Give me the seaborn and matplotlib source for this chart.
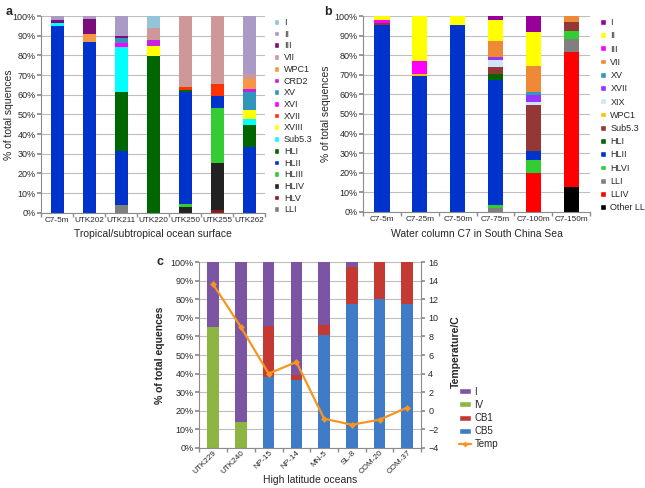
import numpy as np
import matplotlib
matplotlib.use('Agg')
import matplotlib.pyplot as plt
import seaborn as sns
from matplotlib.patches import Patch
from matplotlib.lines import Line2D

sns.set_theme(style='white')
plt.rcParams['font.family'] = ['Liberation Sans Narrow', 'Liberation Sans', 'DejaVu Sans']

# ---- panel a: tropical / subtropical surface ----
samples_a = ['C7-5m', 'UTK202', 'UTK211', 'UTK220', 'UTK250', 'UTK255', 'UTK262']
# clades from bottom of the stack to top
clades_a = ['LLI', 'HLV', 'HLIV', 'HLIII', 'HLII', 'HLI', 'Sub5.3', 'XVIII', 'XVII',
            'XVI', 'XV', 'CRD2', 'WPC1', 'VII', 'III', 'II', 'I']
LLI_a = [0, 0, 4, 0, 0, 0, 0]
HLV_a = [0, 0, 0, 0, 0, 1.5, 0]
HLIV_a = [0, 0, 0, 0, 3, 24, 0]
HLIII_a = [0, 0, 0, 0, 1.5, 28, 0]
HLII_a = [95, 86.7, 27.5, 0, 57, 6, 33.3]
HLI_a = [0, 0, 30, 79.6, 1, 0, 11.3]
Sub53_a = [1.5, 0, 23, 0, 0, 0, 3]
XVIII_a = [0, 0, 0, 5.4, 0, 0, 4.8]
XVII_a = [0, 0, 0, 0, 1.5, 6, 0]
XVI_a = [0, 0, 2, 0, 0, 0, 0]
XV_a = [0, 0, 2.2, 0, 0, 0, 8.8]
CRD2_a = [0, 0, 0, 3, 0, 0, 1.7]
WPC1_a = [0, 4.3, 0, 0, 0, 0, 5.1]
VII_a = [0, 0, 0, 6, 36, 34.5, 2.7]
III_a = [1.5, 7.6, 1.2, 0, 0, 0, 0]
II_a = [2, 1.4, 10.1, 0, 0, 0, 29.3]
I_a = [0, 0, 0, 6, 0, 0, 0]
values_a = [LLI_a, HLV_a, HLIV_a, HLIII_a, HLII_a, HLI_a, Sub53_a, XVIII_a, XVII_a,
            XVI_a, XV_a, CRD2_a, WPC1_a, VII_a, III_a, II_a, I_a]
colors_a = {'I': '#93C4D8', 'II': '#A99BC6', 'III': '#7A0D7A', 'VII': '#CE9898',
            'WPC1': '#F79646', 'CRD2': '#C620E0', 'XV': '#3196BB', 'XVI': '#FF00FF',
            'XVII': '#FF3300', 'XVIII': '#FFFF00', 'Sub5.3': '#00FFFF', 'HLI': '#006600',
            'HLII': '#0033CC', 'HLIII': '#33CC33', 'HLIV': '#222222', 'HLV': '#8B1A1A',
            'LLI': '#808080'}

# ---- panel b: water column C7 ----
samples_b = ['C7-5m', 'C7-25m', 'C7-50m', 'C7-75m', 'C7-100m', 'C7-150m']
clades_b = ['Other LL', 'LLIV', 'LLI', 'HLVI', 'HLII', 'HLI', 'Sub5.3', 'WPC1', 'XIX',
            'XVII', 'XV', 'VII', 'III', 'II', 'I']
OtherLL_b = [0, 0, 0, 0, 0, 12.7]
LLIV_b = [0, 0, 0, 0, 20, 69.2]
LLI_b = [0, 0, 0, 1.7, 0, 6.4]
HLVI_b = [0, 0, 0, 1.7, 6.4, 3.9]
HLII_b = [95.2, 69.2, 95.4, 63.7, 4.6, 0]
HLI_b = [0, 0, 0, 3.4, 0, 0]
Sub53_b = [1.2, 0, 0, 3.4, 23.6, 4.6]
WPC1_b = [0, 1.3, 0, 0, 0, 0]
XIX_b = [0, 0, 0, 3.7, 1.3, 0]
XVII_b = [0, 0, 0, 1.4, 3.8, 0]
XV_b = [0, 0, 0, 0, 1.3, 0]
VII_b = [0, 0, 0, 8.5, 13.6, 3.2]
III_b = [1.6, 6.8, 0, 0, 0, 0]
II_b = [2, 22.7, 4.6, 10.5, 17.4, 0]
I_b = [0, 0, 0, 2, 8, 0]
values_b = [OtherLL_b, LLIV_b, LLI_b, HLVI_b, HLII_b, HLI_b, Sub53_b, WPC1_b, XIX_b,
            XVII_b, XV_b, VII_b, III_b, II_b, I_b]
colors_b = {'I': '#990099', 'II': '#FFFF00', 'III': '#FF00FF', 'VII': '#EE8A36',
            'XV': '#3399BB', 'XVII': '#9933FF', 'XIX': '#CCE6FA', 'WPC1': '#FFC000',
            'Sub5.3': '#953735', 'HLI': '#006600', 'HLII': '#0033CC', 'HLVI': '#33CC33',
            'LLI': '#808080', 'LLIV': '#FF0000', 'Other LL': '#000000'}

# ---- panel c: high latitude ----
samples_c = ['UTK229', 'UTK240', 'NP-15', 'NP-14', 'MN-5', 'SL-8', 'COM-20', 'COM-37']
clades_c = ['CB5', 'CB1', 'IV', 'I']
CB5_c = [0, 0, 38, 36.6, 61, 77.7, 80.2, 77.3]
CB1_c = [0, 0, 27.5, 2.7, 5.4, 19.6, 19.8, 22.7]
IV_c = [65.2, 14.1, 0, 0, 0, 0, 0, 0]
I_c = [34.8, 85.9, 34.5, 60.7, 33.6, 2.7, 0, 0]
values_c = [CB5_c, CB1_c, IV_c, I_c]
temp_c = [13.6, 9.0, 4.0, 5.25, -0.85, -1.5, -0.95, 0.35]
colors_c = {'I': '#7B55A4', 'IV': '#8DB543', 'CB1': '#C43A33', 'CB5': '#3F7BC6'}
temp_color = '#F7961E'


def stacked(ax, samples, clades, values, colors, width):
    cum = np.array(values, dtype=float).cumsum(axis=0)
    # tallest first, lower layers painted over it
    for i in range(len(clades) - 1, -1, -1):
        sns.barplot(x=samples, y=cum[i], color=colors[clades[i]], width=width,
                    saturation=1, errorbar=None, linewidth=0, ax=ax)


def style_axis(ax, n):
    ax.set_xlim(-0.5, n - 0.5)
    ax.set_ylim(0, 100)
    ax.set_yticks(range(0, 101, 10))
    ax.set_yticklabels([f'{v}%' for v in range(0, 101, 10)])
    ax.yaxis.grid(True, color='#BEBEBE', lw=0.8)
    ax.set_axisbelow(True)
    for s in ['top', 'right']:
        ax.spines[s].set_visible(False)
    for s in ['left', 'bottom']:
        ax.spines[s].set_color('#8C8C8C')
        ax.spines[s].set_linewidth(0.8)
    ax.set_xticks(np.arange(-0.5, n), minor=True)
    ax.tick_params(axis='x', which='major', length=0, labelsize=5.9, pad=3)
    ax.tick_params(axis='x', which='minor', length=3, color='#8C8C8C', bottom=True)
    ax.tick_params(axis='y', length=3, color='#8C8C8C', labelsize=6.5, left=True, pad=1)


def legend_from(ax, clades, colors, spacing, anchor):
    handles = [Patch(facecolor=colors[c], label=c) for c in clades[::-1]]
    ax.legend(handles=handles, loc='upper left', bbox_to_anchor=anchor, frameon=False,
              fontsize=6.5, handlelength=0.6, handleheight=0.6, handletextpad=0.5,
              labelspacing=spacing, borderaxespad=0, borderpad=0)


fig = plt.figure(figsize=(6.45, 4.88), dpi=100)

ax_a = fig.add_axes([0.064, 0.564, 0.347, 0.403])
stacked(ax_a, samples_a, clades_a, values_a, colors_a, 0.40)
style_axis(ax_a, len(samples_a))
ax_a.set_ylabel('% of total squences', fontsize=7.5)
ax_a.yaxis.set_label_coords(-0.12, 0.5)
ax_a.set_xlabel('Tropical/subtropical ocean surface', fontsize=7.5, labelpad=4)
legend_from(ax_a, clades_a, colors_a, 0.30, (1.04, 0.99))

ax_b = fig.add_axes([0.563, 0.566, 0.352, 0.401])
stacked(ax_b, samples_b, clades_b, values_b, colors_b, 0.40)
style_axis(ax_b, len(samples_b))
ax_b.set_ylabel('% of total sequences', fontsize=7.5)
ax_b.yaxis.set_label_coords(-0.14, 0.5)
ax_b.set_xlabel('Water column C7 in South China Sea', fontsize=7.5, labelpad=4)
legend_from(ax_b, clades_b, colors_b, 0.47, (1.045, 0.99))

ax_c = fig.add_axes([0.309, 0.082, 0.344, 0.381])
stacked(ax_c, samples_c, clades_c, values_c, colors_c, 0.42)
style_axis(ax_c, len(samples_c))
ax_c.set_ylabel('% of total equences', fontsize=7.5, fontweight='bold')
ax_c.yaxis.set_label_coords(-0.155, 0.5)
ax_c.set_xlabel('High latitude oceans', fontsize=7.5)
ax_c.xaxis.set_label_coords(0.5, -0.145)
ax_c.tick_params(axis='x', which='major', pad=1)
plt.setp(ax_c.get_xticklabels(), rotation=45, ha='right', rotation_mode='anchor')

ax_t = ax_c.twinx()
sns.lineplot(x=np.arange(len(samples_c)), y=temp_c, color=temp_color, marker='D',
             markersize=3.5, markeredgewidth=0, lw=1.6, sort=False, ax=ax_t)
ax_t.set_xlim(-0.5, len(samples_c) - 0.5)
ax_t.set_ylim(-4, 16)
ax_t.set_yticks(range(-4, 17, 2))
ax_t.tick_params(axis='y', length=3, color='#8C8C8C', labelsize=6.5, right=True, pad=2)
for s in ['top', 'left', 'bottom']:
    ax_t.spines[s].set_visible(False)
ax_t.spines['right'].set_color('#8C8C8C')
ax_t.spines['right'].set_linewidth(0.8)
ax_t.set_ylabel('Temperature/C', fontsize=7.5, fontweight='bold')
ax_t.yaxis.set_label_coords(1.135, 0.52)

handles_c = [Patch(facecolor=colors_c[c], label=c) for c in clades_c[::-1]]
handles_c.append(Line2D([], [], color=temp_color, marker='D', markersize=3,
                        markeredgewidth=0, lw=1.6, label='Temp'))
ax_t.legend(handles=handles_c, loc='upper left', bbox_to_anchor=(1.17, 0.33),
            frameon=False, fontsize=7, handlelength=1.2, handleheight=0.6,
            handletextpad=0.4, labelspacing=0.33, borderaxespad=0, borderpad=0)

fig.text(0.008, 0.975, 'a', fontsize=9, fontweight='bold', va='center')
fig.text(0.503, 0.975, 'b', fontsize=9, fontweight='bold', va='center')
fig.text(0.243, 0.463, 'c', fontsize=9, fontweight='bold', va='center')

fig.savefig('out.png', dpi=100)
